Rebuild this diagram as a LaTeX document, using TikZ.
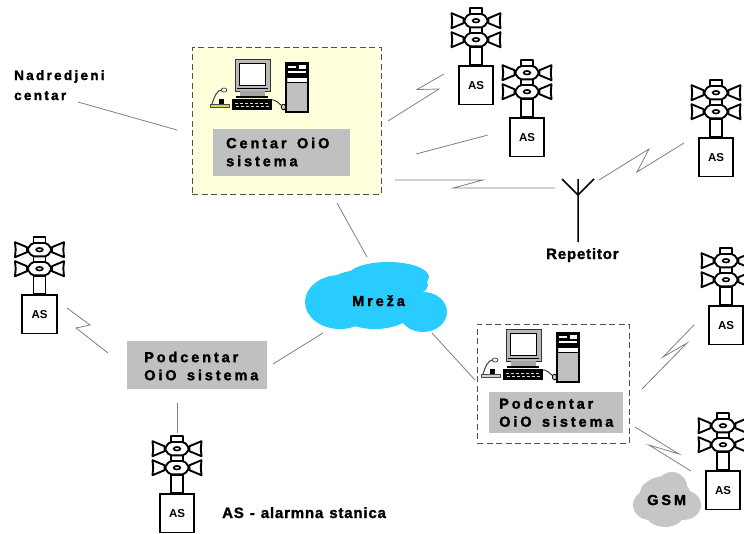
\documentclass[tikz,border=0pt]{standalone}
\usepackage{fontspec}
\setmainfont{Liberation Sans}
\newfontfamily\widefont[LetterSpace=20,WordSpace=1.5,FakeBold=1.8]{Liberation Sans Bold}
\newfontfamily\midfont[LetterSpace=17,WordSpace=1.5,FakeBold=1.8]{Liberation Sans Bold}
\newfontfamily\slimfont[LetterSpace=5.5,WordSpace=1.2,FakeBold=1.5]{Liberation Sans Bold}
\definecolor{linkgray}{HTML}{808080}
\definecolor{boxgray}{HTML}{C0C0C0}
\definecolor{paleyellow}{HTML}{FFFFDC}
\definecolor{netblue}{HTML}{29CCFF}
\definecolor{cloudgray}{HTML}{C6C6C6}
\definecolor{dashgray}{HTML}{505050}
\tikzset{
  link/.style={draw=linkgray,line width=0.8pt,line join=miter},
  sirenline/.style={draw=black,line width=1.9pt,line join=round},
  asbox/.style={draw=black,line width=1.7pt,fill=white,minimum width=34.5pt,minimum height=38.5pt,inner sep=0pt,font=\fontsize{11.5}{12}\selectfont\bfseries},
  dashbox/.style={draw=dashgray,line width=0.8pt,dash pattern=on 6pt off 3.5pt},
  graybox/.style={fill=boxgray,inner sep=0pt},
  lab/.style={inner sep=0pt,anchor=base west,font=\fontsize{14.5}{18}\selectfont\widefont},
  twolines/.style={inner sep=0pt,anchor=west,align=left,font=\fontsize{14.5}{18}\selectfont\widefont},
  labm/.style={inner sep=0pt,anchor=base west,align=left,font=\fontsize{13.5}{20}\selectfont\midfont},
  labs/.style={inner sep=0pt,anchor=base west,font=\fontsize{15}{18}\selectfont\slimfont},
}
% alarm station: name, centre x, box top y
\newcommand{\alarmunit}[3]{%
  \begin{scope}[shift={(#2,#3)}]
    \foreach \yy in {-44.3,-25.3}{
      \draw[sirenline,fill=white] (-12.5,\yy-2.5) -- (-24.5,\yy-7.5) -- (-23.8,\yy) -- (-24.5,\yy+7.5) -- (-12.5,\yy+2.5) -- cycle;
      \draw[sirenline,fill=white] (12.5,\yy-2.5) -- (24.5,\yy-7.5) -- (23.8,\yy) -- (24.5,\yy+7.5) -- (12.5,\yy+2.5) -- cycle;
    }
    \draw[sirenline,fill=white] (-6,-18) rectangle (6,0);
    \draw[sirenline,fill=white] (-6,-57) rectangle (6,-50);
    \draw[sirenline,fill=white] (-6,-38) rectangle (6,-32);
    \foreach \yy in {-44.3,-25.3}{
      \draw[sirenline,fill=white,rounded corners=2pt] (-12.5,\yy) -- (-7.5,\yy-6.7) -- (7.5,\yy-6.7) -- (12.5,\yy) -- (7.5,\yy+6.7) -- (-7.5,\yy+6.7) -- cycle;
      \draw[black,line width=1.6pt] (0,\yy) ellipse (3.3pt and 1.8pt);
    }
  \end{scope}
  \node[asbox,anchor=north] (#1) at (#2,#3) {AS};
}
% workstation icon: offset x, offset y, colour of the microphone base
\newcommand{\workstation}[3]{%
  \begin{scope}[shift={(#1,#2)}]
    % monitor
    \draw[black!80,line width=0.8pt,fill=gray!55] (235,59) rectangle (270,91);
    \draw[black,line width=0.8pt,fill=white] (239.5,63) rectangle (265.5,85);
    \fill[gray!70] (240,91) rectangle (265,96);
    \draw[black,line width=0.5pt] (237,88) -- (268,88);
    \fill[black] (236,96) rectangle (268,97.5);
    % keyboard
    \fill[black] (232,99) rectangle (272,110);
    \foreach \kx in {235,240,...,265}{\fill[white!70!gray] (\kx,102.5) rectangle +(3,1); \fill[white!70!gray] (\kx+1,106) rectangle +(3,1);}
    % cable and mouse
    \draw[black,line width=0.7pt] (270,100) .. controls (276,99) and (278,103) .. (282,106);
    \draw[black,line width=0.8pt,fill=gray!40] (283.5,107) ellipse (2.2pt and 2.8pt);
    % tower
    \draw[black,line width=1.2pt,fill=boxgray] (286,63) rectangle (308,112);
    \fill[black] (286,62) rectangle (308,77);
    \fill[white] (288,66) rectangle (296,68);
    \fill[white] (299,65) rectangle (306,69);
    \fill[white] (288,71) rectangle (306,73);
    \fill[black] (286,75) rectangle (308,78);
    \fill[white] (287.5,78) rectangle (306.5,81.5);
    \fill[black] (286,81.5) rectangle (308,83);
    % microphone
    \draw[gray!60!black,line width=1.1pt] (212,104) .. controls (214,98) and (216,90) .. (223,89.5);
    \draw[gray!60!black,line width=0.8pt,fill=white] (224,90) ellipse (2.8pt and 2pt);
    \fill[black] (219,99) rectangle (224,104);
    \draw[black!70,line width=0.6pt,fill=#3] (210,104) rectangle (229,107.5);
  \end{scope}
}
\begin{document}
\begin{tikzpicture}[x=1pt,y=-1pt]
\useasboundingbox (0,0) rectangle (744,533);
\fill[white] (0,0) rectangle (744,533);

% boxes
\node[dashbox,fill=paleyellow,minimum width=189pt,minimum height=147pt,inner sep=0pt,anchor=north west] (central) at (192,47) {};
\node[dashbox,fill=white,minimum width=152pt,minimum height=119pt,inner sep=0pt,anchor=north west] (subright) at (477,324) {};
\workstation{0}{0}{yellow!70!gray}
\workstation{271}{270}{gray!35}
\node[graybox,minimum width=137pt,minimum height=47pt,anchor=north west] (centralbox) at (213,129) {};
\node[twolines] (centralname) at (226,152) {Centar OiO\\sistema};
\node[graybox,minimum width=134pt,minimum height=41pt,anchor=north west] (subrightbox) at (489,392) {};
\node[twolines] (subrightname) at (499,412.5) {Podcentar\\OiO sistema};
\node[graybox,minimum width=140pt,minimum height=48pt,anchor=north west] (subleftbox) at (127,341) {};
\node[twolines] (subleftname) at (144,366) {Podcentar\\OiO sistema};

% clouds
\fill[netblue] (388,277) ellipse (41pt and 15pt) (340,302) ellipse (35pt and 27pt) (362,288) ellipse (36pt and 18pt) (375,305) ellipse (42pt and 24pt) (423,312) ellipse (24pt and 20pt) (410,285) ellipse (18pt and 10pt);
\node[lab] (net) at (352,306) {Mreža};
\fill[cloudgray] (665,497) ellipse (26pt and 21pt) (650,505) ellipse (17pt and 15pt) (683,505) ellipse (18pt and 15pt) (665,512) ellipse (20pt and 15pt) (672,487) ellipse (15pt and 15pt) (650,490) ellipse (9pt and 8pt);
\node[lab] (gsm) at (647,505) {GSM};

% alarm stations
\alarmunit{as1}{476}{65}
\alarmunit{as2}{527}{117}
\alarmunit{as3}{716}{137}
\alarmunit{as4}{726}{305}
\alarmunit{as5}{723}{470}
\alarmunit{as6}{39.5}{294}
\alarmunit{as7}{177}{493}

% antenna
\coordinate (antTop) at (578,179);
\coordinate (antHub) at (578,195);
\coordinate (antFoot) at (578,242);
\coordinate (antL) at (562,179);
\coordinate (antR) at (594,179);
\draw[black,line width=1.5pt] (antTop) -- (antFoot) (antL) -- (antHub) -- (antR);

% labels
\node[labm] (upper) at (14,100) {Nadredjeni\\centar};
\node[labs] (rep) at (546,259) {Repetitor};
\node[labs] (legend) at (222,518) {AS - alarmna stanica};

% free ends
\coordinate (a1) at (78,102);   \coordinate (a2) at (177,130);
\coordinate (b1) at (337,203);  \coordinate (b2) at (367,257);
\coordinate (c1) at (273,364);  \coordinate (c2) at (323,333);
\coordinate (d1) at (432,333);  \coordinate (d2) at (475,380);
\coordinate (e1) at (177.5,403);\coordinate (e2) at (177.5,433);
\coordinate (f1) at (388,121);  \coordinate (f2) at (444,74);
\coordinate (g1) at (416,154);  \coordinate (g2) at (488,135);
\coordinate (h1) at (395,180);  \coordinate (h2) at (555,188);
\coordinate (i1) at (599,180);  \coordinate (i2) at (684,143);
\coordinate (j1) at (642,389);  \coordinate (j2) at (694,325);
\coordinate (k1) at (635,427);  \coordinate (k2) at (691,471);
\coordinate (l1) at (67,308);   \coordinate (l2) at (108,353);

% connectors
\draw[link] (a1) -- (a2);
\draw[link] (b1) -- (b2);
\draw[link] (c1) -- (c2);
\draw[link] (d1) -- (d2);
\draw[link] (e1) -- (e2);
\draw[link] (g1) -- (g2);
\draw[link] (f1) -- (439,89) -- (417,89.5) -- (f2);
\draw[link] (h1) -- (483,180) -- (453,188) -- (h2);
\draw[link] (i1) -- (649,149) -- (637,172) -- (i2);
\draw[link] (j1) -- (687,343) -- (663,357) -- (j2);
\draw[link] (k1) -- (679,454) -- (649,445) -- (k2);
\draw[link] (l1) -- (90,325) -- (76,328) -- (l2);
\end{tikzpicture}
\end{document}
